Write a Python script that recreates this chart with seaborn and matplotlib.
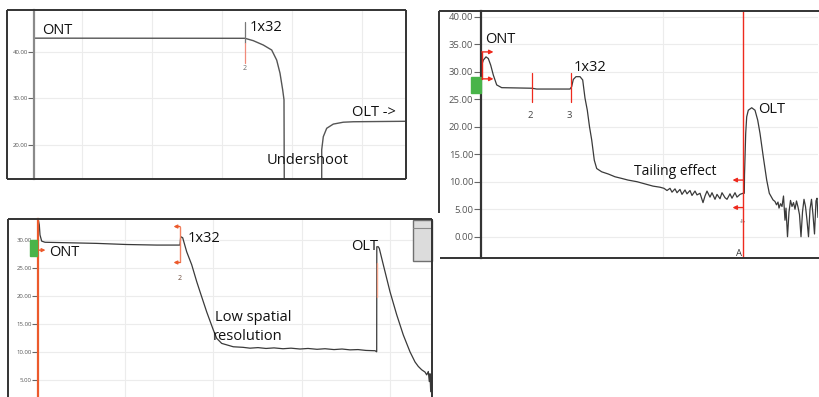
import matplotlib
matplotlib.use("Agg")
import matplotlib.pyplot as plt
import seaborn as sns
import pandas as pd
from matplotlib.patches import Rectangle
from matplotlib.lines import Line2D

# ---------------- data ----------------
# Panel 1 (top left): undershoot trace
p1_ont_x = [0, 211, 219.3, 229.3, 237.7, 242.7, 246, 248.7, 250, 250.3]
p1_ont_y = [42.9, 42.87, 42.36, 41.43, 40.36, 38.2, 35.4, 31.8, 29.7, 10]
p1_olt_x = [287.7, 287.7, 289.3, 292.7, 299.3, 309.3, 319.3, 372]
p1_olt_y = [10, 19.0, 21.8, 23.6, 24.5, 24.9, 25.0, 25.1]
p1_ticks = [20, 30, 40]

# Panel 2 (right): tailing effect trace
p2_x = [0.7, 2.3, 5, 7.3, 9.7, 12.3, 15.7, 20.7, 50.7, 55.7, 89, 90.7, 92.3, 95, 99, 101.7,
        104, 106.3, 108.5, 110.7, 113.3, 115.7, 120.7, 127.3, 134, 140.7, 147, 156, 164, 172, 179,
        183, 186, 189, 191, 194, 196, 199, 201, 204, 206, 209, 211, 214, 216, 219, 222, 224, 226,
        229, 231, 234, 236, 239, 241, 244, 246, 249, 251, 254, 256, 259, 262,
        263.3, 263.5, 264.7, 265.7, 267.3, 270.7, 274, 276.7, 279, 282.3, 285.7, 288.3, 292,
        294, 295.5, 297, 298, 299.5, 301, 302.5, 304, 305, 306.5, 308, 309.5, 311, 312.5, 314,
        315.5, 317, 318.5, 320, 321.5, 323, 324.5, 326, 327.5, 329, 330.5, 332, 333.5, 335, 336, 337]
p2_y = [31.2, 32.1, 32.7, 32.4, 31.2, 29.4, 27.6, 27.1, 27.0, 26.85, 26.85, 27.3, 28.6, 29.1, 29.1, 28.5,
        25.2, 23.0, 20.0, 17.6, 13.9, 12.4, 11.8, 11.4, 10.9, 10.6, 10.3, 10.0, 9.6, 9.2, 9.0,
        8.8, 8.4, 8.8, 8.1, 8.7, 8.0, 8.6, 7.7, 8.5, 7.8, 8.4, 7.5, 8.3, 7.6, 7.9, 6.2, 7.4, 8.3,
        7.2, 8.0, 6.8, 7.7, 6.9, 8.0, 7.1, 6.8, 7.8, 7.0, 8.0, 7.2, 7.7, 7.9,
        7.9, 11.2, 18.8, 21.8, 23.0, 23.45, 23.0, 21.2, 18.8, 14.5, 10.3, 7.9, 6.7,
        6.4, 5.8, 6.3, 5.2, 6.0, 5.5, 7.4, 3.0, 5.2, 0.0, 4.5, 6.6, 5.5, 6.2, 5.0,
        6.5, 5.4, 4.0, 0.0, 4.5, 6.8, 5.5, 3.0, 0.0, 5.0, 6.8, 4.0, 0.5, 6.5, 7.0, 3.5]
p2_ticks = [0, 5, 10, 15, 20, 25, 30, 35, 40]
p2_markers = [50.7, 90]
p2_marker_labels = ["2", "3"]

# Panel 3 (bottom left): low spatial resolution trace
p3_x = [0.3, 1.3, 2, 3.7, 7, 58.7, 88.7, 118.7, 142, 142.7, 144.7, 148.7, 153.7, 158.7, 162,
        168.7, 175.3, 178.7, 183.7, 195.3, 205, 212, 220, 228, 236, 245, 253, 262, 270, 279,
        287, 296, 304, 312, 320, 328, 336, 337, 338.7, 338.8, 340.3, 341.3, 345.3, 352, 358.7,
        365.3, 372, 377, 380.3, 383.7, 387, 388.7, 390.3, 391.3, 392, 392.7, 393.5]
p3_y = [33.6, 32.7, 30.9, 29.8, 29.6, 29.4, 29.2, 29.1, 29.1, 30.6, 30.4, 27.9, 25.6, 22.6, 20.8,
        17.2, 14.0, 12.5, 11.6, 11.0, 10.9, 10.75, 10.85, 10.7, 10.8, 10.65, 10.75, 10.6, 10.7, 10.55,
        10.65, 10.5, 10.6, 10.45, 10.5, 10.35, 10.3, 10.3, 10.1, 28.8, 28.8, 28.5, 25.6, 20.8, 16.7,
        13.1, 10.1, 8.3, 7.5, 6.9, 6.5, 6.0, 6.6, 4.8, 6.2, 3.0, 5.5]
p3_ticks = [5, 10, 15, 20, 25, 30]

# ---------------- figure ----------------
sns.set_theme(style="white")
plt.rcParams["font.family"] = ["Open Sans", "DejaVu Sans"]
W, H = 819, 397
fig = plt.figure(figsize=(W / 100, H / 100), dpi=100)
fig.patch.set_facecolor("white")

TRACE = "#3a3a3a"
RED = "#ee2a1e"
ORANGE = "#ec5a2c"
SALMON = "#f5a58c"
GREEN = "#48b449"
GRID = "#ececec"
TXT = "#111111"
FS = 10.5


def px_axes(l, t, r, b):
    return fig.add_axes([l / W, 1 - b / H, (r - l) / W, (b - t) / H])


def fig_line(x0, y0, x1, y1, color="#333333", lw=1.4):
    fig.add_artist(Line2D([x0 / W, x1 / W], [1 - y0 / H, 1 - y1 / H], color=color, lw=lw,
                          transform=fig.transFigure, solid_capstyle="butt"))


def style_axes(ax, ticks, xgrid, xlim, ylim, spine_color, lab_size, tick_len):
    ax.set_facecolor("none")
    ax.set_xlim(*xlim)
    ax.set_ylim(*ylim)
    ax.set_yticks(ticks)
    ax.set_yticklabels([f"{t:.2f}" for t in ticks])
    ax.set_xticks(xgrid)
    ax.set_xticklabels([])
    ax.grid(True, color=GRID, lw=0.8)
    ax.set_axisbelow(True)
    for s in ["top", "right", "bottom"]:
        ax.spines[s].set_visible(False)
    ax.spines["left"].set_color(spine_color)
    ax.spines["left"].set_linewidth(1.6)
    ax.tick_params(axis="x", length=0)
    ax.tick_params(axis="y", length=tick_len, width=0.8, color="#666666",
                   labelsize=lab_size, labelcolor="#555555", pad=0.6, left=True)
    ax.set_xlabel("")
    ax.set_ylabel("")


def arrow(ax, x0, y0, x1, y1, color=RED, ms=6):
    ax.annotate("", xy=(x1, y1), xytext=(x0, y0),
                arrowprops=dict(arrowstyle="-|>", color=color, lw=1.0, mutation_scale=ms,
                                shrinkA=0, shrinkB=0), annotation_clip=False)


# ---------- Panel 1 ----------
ax1 = px_axes(34, 10, 406, 179)
df1 = pd.DataFrame({"x": p1_ont_x + p1_olt_x, "y": p1_ont_y + p1_olt_y,
                    "seg": ["ont"] * len(p1_ont_x) + ["olt"] * len(p1_olt_x)})
sns.lineplot(data=df1, x="x", y="y", units="seg", estimator=None, sort=False,
             color="#555555", lw=1.0, ax=ax1)
style_axes(ax1, p1_ticks, [48, 118, 188, 258, 328], (0, 372), (12.74, 48.93), "#8a8a8a", 4.3, 4)
ax1.plot([211, 211], [41.9, 46.4], color="#777777", lw=0.9)
ax1.plot([211, 211], [37.6, 41.9], color="#f08a7a", lw=0.9)
ax1.text(211, 36.4, "2", fontsize=5, color="#666666", ha="center", va="center")
ax1.text(8, 44.6, "ONT", fontsize=FS, color=TXT, ha="left", va="center")
ax1.text(216, 45.2, "1x32", fontsize=FS, color=TXT, ha="left", va="center")
ax1.text(318, 26.9, "OLT ->", fontsize=FS, color=TXT, ha="left", va="center")
ax1.text(233, 16.6, "Undershoot", fontsize=FS, color=TXT, ha="left", va="center")
# frame
fig_line(7, 10, 406, 10)
fig_line(7, 179, 406, 179)
fig_line(7, 10, 7, 179)
fig_line(406, 10, 406, 179)

# ---------- Panel 2 ----------
ax2 = px_axes(481, 11, 818, 258)
df2 = pd.DataFrame({"x": p2_x, "y": p2_y})
sns.lineplot(data=df2, x="x", y="y", estimator=None, sort=False, color=TRACE, lw=0.9, ax=ax2)
style_axes(ax2, p2_ticks, [182.3], (0, 337), (-3.87, 41.04), "#333333", 6.8, 5)
ax2.add_patch(Rectangle((-10.5, 26.1), 10.3, 3.0, color=GREEN, clip_on=False, zorder=3))
ax2.plot([0.8, 0.8], [28.7, 33.6], color=RED, lw=1.0, clip_on=False, zorder=4)
arrow(ax2, 0.8, 33.6, 12.5, 33.6)
arrow(ax2, 0.8, 28.7, 12.5, 28.7)
for mx, ml in zip(p2_markers, p2_marker_labels):
    ax2.plot([mx, mx], [24.5, 29.7], color=RED, lw=0.9)
    ax2.text(mx - 1.5, 22.1, ml, fontsize=6.8, color="#444444", ha="center", va="center")
ax2.axvline(262.3, color=RED, lw=1.0, zorder=4)
arrow(ax2, 262.3, 10.3, 251.5, 10.3)
arrow(ax2, 262.3, 5.3, 251.5, 5.3)
ax2.text(259, 3.0, "4", fontsize=5, color="#888888", ha="center", va="center", rotation=-90)
ax2.text(257.5, -3.0, "A", fontsize=6.8, color="#333333", ha="center", va="center")
ax2.text(4, 35.9, "ONT", fontsize=FS, color=TXT, ha="left", va="center")
ax2.text(93, 30.8, "1x32", fontsize=FS, color=TXT, ha="left", va="center")
ax2.text(277, 23.2, "OLT", fontsize=FS, color=TXT, ha="left", va="center")
ax2.text(153, 11.8, "Tailing effect", fontsize=10, color=TXT, ha="left", va="center")
fig_line(439, 11, 819, 11)
fig_line(439, 11, 439, 213)
fig_line(440, 258, 819, 258)

# ---------- Panel 3 ----------
ax3 = px_axes(38, 219, 432, 397)
df3 = pd.DataFrame({"x": p3_x, "y": p3_y})
sns.lineplot(data=df3, x="x", y="y", estimator=None, sort=False, color=TRACE, lw=0.9, ax=ax3)
style_axes(ax3, p3_ticks, [87, 175.3, 263.7, 352], (0, 394), (2.06, 33.74), ORANGE, 4.3, 4)
ax3.plot([338.75, 338.75], [19.9, 25.9], color=SALMON, lw=1.0, zorder=4)
ax3.add_patch(Rectangle((-8.3, 27.2), 7.3, 2.8, color=GREEN, clip_on=False, zorder=3))
arrow(ax3, 0.5, 28.2, 7.5, 28.2, color=ORANGE, ms=5)
ax3.plot([142, 142], [26.0, 32.4], color="#f08060", lw=1.0)
arrow(ax3, 142, 32.4, 135.5, 32.4, color=ORANGE, ms=5)
arrow(ax3, 142, 26.0, 135.5, 26.0, color=ORANGE, ms=5)
ax3.text(142, 23.2, "2", fontsize=5, color="#6a4a3a", ha="center", va="center")
ax3.add_patch(Rectangle((375.3, 26.3), 19, 7.2, facecolor="#dcdcdc", edgecolor="#707070",
                        lw=1.0, zorder=5, clip_on=False))
ax3.plot([375.3, 394], [32.2, 32.2], color="#8a8a8a", lw=0.8, zorder=6)
ax3.text(11, 27.8, "ONT", fontsize=FS, color=TXT, ha="left", va="center")
ax3.text(150, 30.2, "1x32", fontsize=FS, color=TXT, ha="left", va="center")
ax3.text(313, 28.9, "OLT", fontsize=FS, color=TXT, ha="left", va="center")
ax3.text(177, 16.2, "Low spatial", fontsize=FS, color=TXT, ha="left", va="center")
ax3.text(175, 12.9, "resolution", fontsize=FS, color=TXT, ha="left", va="center")
fig_line(8, 219, 432, 219)
fig_line(8, 219, 8, 397)
fig_line(432, 219, 432, 397)

fig.savefig("out.png", dpi=100, facecolor="white")
